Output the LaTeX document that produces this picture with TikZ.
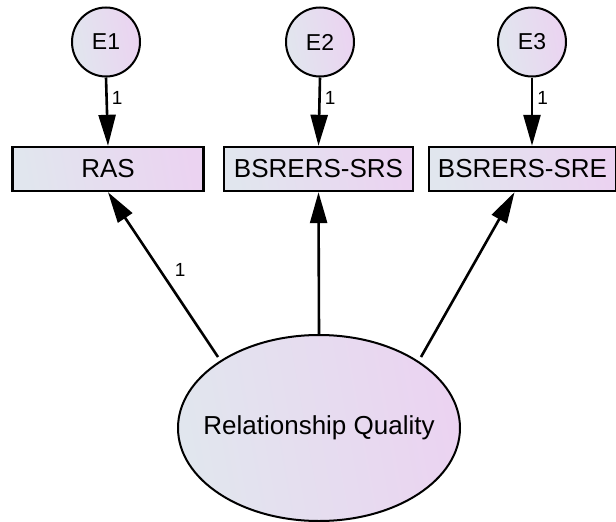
\documentclass[tikz,border=0pt]{standalone}
\usepackage{fontspec}
\setmainfont{Liberation Sans}
\usetikzlibrary{arrows.meta,shapes.geometric}
\definecolor{gradL}{HTML}{E1E6EE}
\definecolor{gradR}{HTML}{EBD3F1}
\tikzset{
  gfill/.style={shading=axis,left color=gradL,right color=gradR,shading angle=100},
  errc/.style={ellipse,draw,line width=2pt,gfill,minimum width=68pt,minimum height=69pt,inner sep=0pt,font=\fontsize{23}{26}\selectfont},
  obsbox/.style={rectangle,draw,line width=2.4pt,gfill,minimum height=44pt,inner sep=0pt,font=\fontsize{26}{30}\selectfont},
  latent/.style={ellipse,draw,line width=2pt,gfill,minimum width=282pt,minimum height=186pt,inner sep=0pt,label={[font=\fontsize{26}{30}\selectfont]center:#1}},
  path/.style={line width=2.6pt,-{Triangle[length=31pt,width=17pt]}},
  wlab/.style={font=\fontsize{19}{21}\selectfont,inner sep=1pt}
}
\begin{document}
\begin{tikzpicture}[x=1pt,y=-1pt]
\useasboundingbox (0,0) rectangle (616,522);
\node[errc] (e1) at (106,42) {E1};
\node[errc] (e2) at (320,42) {E2};
\node[errc] (e3) at (532,42) {E3};
\node[obsbox,minimum width=191pt] (ras) at (108,169) {RAS};
\node[obsbox,minimum width=189pt] (srs) at (318.5,169) {BSRERS-SRS};
\node[obsbox,minimum width=187pt] (sre) at (522.5,169) {BSRERS-SRE};
\node[latent={Relationship Quality}] (rq) at (319,428) {};
\draw[path] (e1.south) -- node[wlab,right=3pt,pos=0.3]{1} (ras.north);
\draw[path] (e2.south) -- node[wlab,right=3pt,pos=0.3]{1} (srs.north);
\draw[path] (e3.south) -- node[wlab,right=3pt,pos=0.3]{1} (sre.north -| e3.south);
\coordinate (rqL) at (218,357);
\coordinate (rqR) at (421,357);
\draw[path] (rqL) -- node[wlab,above right=4pt,pos=0.45]{1} (ras.south);
\draw[path] (rq.north) -- (srs.south);
\draw[path] (rqR) -- ([xshift=-8pt]sre.south);
\end{tikzpicture}
\end{document}
